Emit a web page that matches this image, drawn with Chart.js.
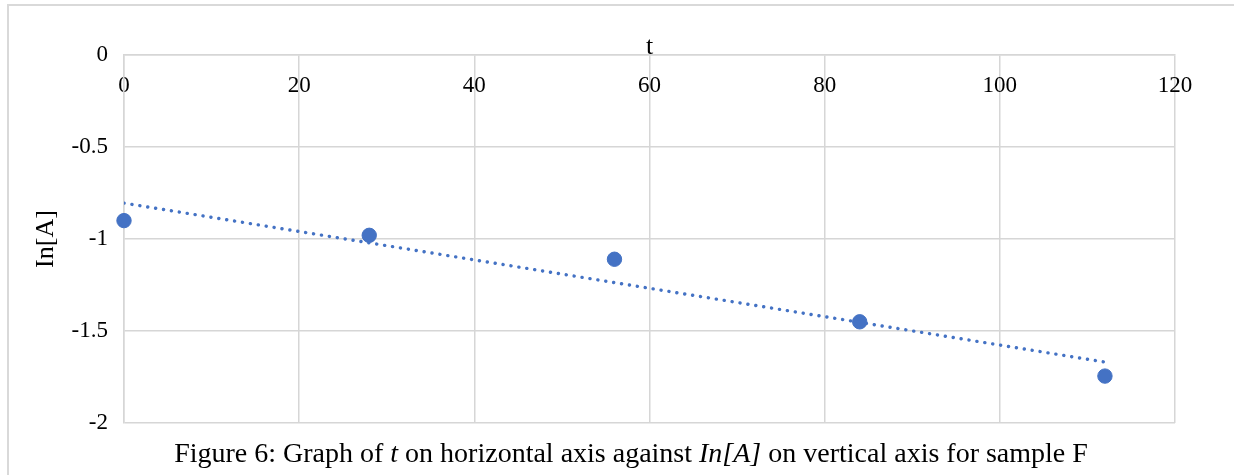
<!DOCTYPE html>
<html>
<head>
<meta charset="utf-8">
<script src="https://cdn.jsdelivr.net/npm/chart.js@4.4.1/dist/chart.umd.min.js"></script>
<style>
  html, body { margin: 0; padding: 0; background: #ffffff; }
  canvas { display: block; }
</style>
</head>
<body>
<canvas id="chart" width="1234" height="475"></canvas>
<script>
// Measured values: time t and ln of the concentration for sample F
const timeValues = [0, 28, 56, 84, 112];
const lnA = [-0.90, -0.98, -1.11, -1.45, -1.745];

// Axis ticks
const xTickValues = [0, 20, 40, 60, 80, 100, 120];
const yTickValues = [0, -0.5, -1, -1.5, -2];

// Text
const xTitle = 't';
const yTitle = 'In[A]';
const captionParts = [
  { text: 'Figure 6: Graph of ', italic: false },
  { text: 't', italic: true },
  { text: ' on horizontal axis against ', italic: false },
  { text: 'In[A]', italic: true },
  { text: ' on vertical axis for sample F', italic: false }
];

const SERIF = '"Liberation Serif", "Times New Roman", Times, serif';
const BLUE = '#4472C4';
const GRID = '#d6d6d6';

// Least-squares linear trendline through the measured points
function linearFit(xs, ys) {
  const n = xs.length;
  const mx = xs.reduce((a, b) => a + b, 0) / n;
  const my = ys.reduce((a, b) => a + b, 0) / n;
  let sxy = 0, sxx = 0;
  for (let i = 0; i < n; i++) {
    sxy += (xs[i] - mx) * (ys[i] - my);
    sxx += (xs[i] - mx) * (xs[i] - mx);
  }
  const slope = sxy / sxx;
  return { slope, intercept: my - slope * mx };
}
const fit = linearFit(timeValues, lnA);
const trendX = [timeValues[0], timeValues[timeValues.length - 1]];
const trendPoints = trendX.map(x => ({ x, y: fit.intercept + fit.slope * x }));

const points = timeValues.map((t, i) => ({ x: t, y: lnA[i] }));

// Outer frame and the figure caption beneath the plot
const framePlugin = {
  id: 'frame',
  beforeDraw(chart) {
    const ctx = chart.ctx;
    ctx.save();
    ctx.fillStyle = '#ffffff';
    ctx.fillRect(0, 0, chart.width, chart.height);
    ctx.strokeStyle = '#d9d9d9';
    ctx.lineWidth = 2;
    ctx.beginPath();
    ctx.moveTo(8, chart.height);
    ctx.lineTo(8, 5);
    ctx.lineTo(chart.width, 5);
    ctx.stroke();
    ctx.restore();
  },
  afterDraw(chart) {
    const ctx = chart.ctx;
    const size = 28;
    ctx.save();
    ctx.fillStyle = '#000000';
    ctx.textBaseline = 'alphabetic';
    ctx.textAlign = 'left';
    const fontFor = p => (p.italic ? 'italic ' : '') + size + 'px ' + SERIF;
    let total = 0;
    captionParts.forEach(p => { ctx.font = fontFor(p); total += ctx.measureText(p.text).width; });
    let x = 631 - total / 2;
    const y = 462;
    captionParts.forEach(p => {
      ctx.font = fontFor(p);
      ctx.fillText(p.text, x, y);
      x += ctx.measureText(p.text).width;
    });
    ctx.restore();
  }
};

new Chart(document.getElementById('chart'), {
  type: 'scatter',
  data: {
    datasets: [
      {
        label: 'Linear (ln[A])',
        data: trendPoints,
        showLine: true,
        borderColor: BLUE,
        borderWidth: 3.4,
        borderDash: [0.1, 7.9],
        borderCapStyle: 'round',
        pointRadius: 0,
        pointHoverRadius: 0,
        fill: false,
        order: 0
      },
      {
        label: 'ln[A]',
        data: points,
        backgroundColor: BLUE,
        borderColor: BLUE,
        pointRadius: 7.2,
        pointHoverRadius: 7.2,
        clip: false,
        order: 1
      }
    ]
  },
  options: {
    responsive: false,
    devicePixelRatio: 1,
    animation: false,
    layout: { padding: { left: 0, right: 59, top: 0, bottom: 52 } },
    plugins: {
      legend: { display: false },
      tooltip: { enabled: false },
      title: { display: false }
    },
    scales: {
      x: {
        type: 'linear',
        position: 'top',
        min: 0,
        max: 120,
        afterBuildTicks: s => { s.ticks = xTickValues.map(v => ({ value: v })); },
        afterFit: s => { s.height = 55; },
        grid: { color: GRID, lineWidth: 1.5, drawTicks: false },
        border: { color: GRID, width: 1.5 },
        ticks: {
          color: '#000000',
          font: { family: SERIF, size: 23 },
          mirror: true,
          padding: 17,
          maxRotation: 0,
          autoSkip: false,
          callback: v => String(v)
        },
        title: {
          display: true,
          text: xTitle,
          color: '#000000',
          font: { family: SERIF, size: 26 },
          padding: { top: 32, bottom: 0 }
        }
      },
      y: {
        type: 'linear',
        min: -2,
        max: 0,
        afterBuildTicks: s => { s.ticks = yTickValues.map(v => ({ value: v })); },
        afterFit: s => { s.width = 124; },
        grid: { color: GRID, lineWidth: 1.5, drawTicks: false },
        border: { color: GRID, width: 1.5 },
        ticks: {
          color: '#000000',
          font: { family: SERIF, size: 23 },
          padding: 16,
          callback: v => String(v)
        },
        title: {
          display: true,
          text: yTitle,
          color: '#000000',
          font: { family: SERIF, size: 26 },
          padding: { top: 31, bottom: 0 }
        }
      }
    }
  },
  plugins: [framePlugin]
});
</script>
</body>
</html>
